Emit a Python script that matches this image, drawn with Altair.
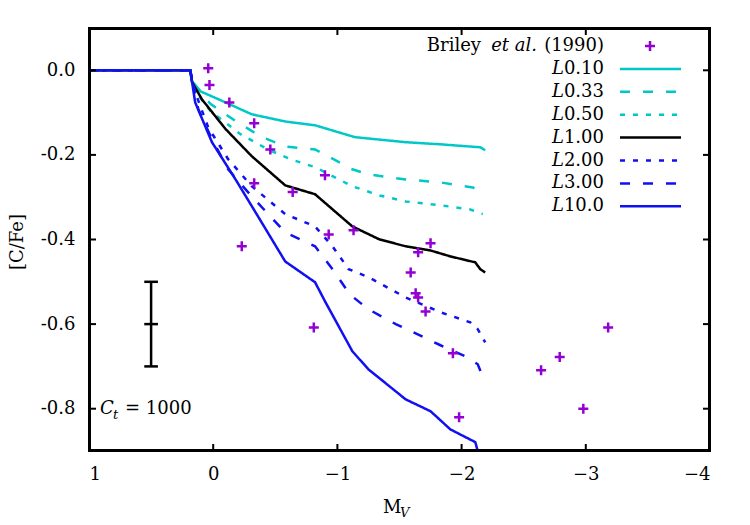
import altair as alt
import pandas as pd

# ---------------- data ----------------
series_names = ["L0.10", "L0.33", "L0.50", "L1.00", "L2.00", "L3.00", "L10.0"]
series_colors = ["#00C8C8", "#00C8C8", "#00C8C8", "#000000", "#1010F0", "#1010F0", "#1010F0"]
series_dash = [[1, 0], [10, 13], [5, 8], [1, 0], [5, 8], [10, 13], [1, 0]]

mv_L010 = [1.0, 0.185, 0.17, 0.10, -0.10, -0.31, -0.58, -0.82, -1.14, -1.55, -1.83, -2.15, -2.19]
cfe_L010 = [0.0, 0.0, -0.026, -0.05, -0.076, -0.104, -0.121, -0.130, -0.158, -0.170, -0.175, -0.182, -0.189]

mv_L033 = [1.0, 0.185, 0.145, 0.02, -0.18, -0.38, -0.58, -0.82, -1.12, -1.25, -1.55, -1.83, -2.09, -2.17]
cfe_L033 = [0.0, 0.0, -0.04, -0.08, -0.12, -0.156, -0.18, -0.187, -0.234, -0.246, -0.258, -0.265, -0.277, -0.288]

mv_L050 = [1.0, 0.185, 0.145, 0.02, -0.22, -0.44, -0.62, -0.82, -0.98, -1.12, -1.34, -1.55, -1.83, -2.07, -2.17]
cfe_L050 = [0.0, 0.0, -0.05, -0.097, -0.151, -0.187, -0.21, -0.229, -0.253, -0.274, -0.296, -0.31, -0.319, -0.329, -0.34]

mv_L100 = [1.0, 0.185, 0.17, 0.09, -0.10, -0.31, -0.58, -0.82, -1.12, -1.34, -1.55, -1.75, -1.91, -2.11, -2.15, -2.19]
cfe_L100 = [0.0, 0.0, -0.028, -0.069, -0.139, -0.203, -0.272, -0.293, -0.369, -0.40, -0.416, -0.426, -0.44, -0.454, -0.47, -0.478]

mv_L200 = [1.0, 0.185, 0.145, 0.04, -0.12, -0.31, -0.58, -0.82, -0.96, -1.09, -1.25, -1.55, -1.83, -2.07, -2.13, -2.19]
cfe_L200 = [0.0, 0.0, -0.052, -0.135, -0.21, -0.274, -0.34, -0.369, -0.416, -0.47, -0.489, -0.537, -0.572, -0.596, -0.612, -0.643]

mv_L300 = [1.0, 0.185, 0.12, 0.01, -0.12, -0.31, -0.58, -0.82, -0.98, -1.10, -1.25, -1.47, -1.61, -1.83, -2.03, -2.13, -2.19]
cfe_L300 = [0.0, 0.0, -0.092, -0.163, -0.234, -0.298, -0.383, -0.416, -0.478, -0.53, -0.565, -0.60, -0.619, -0.65, -0.676, -0.695, -0.738]

mv_L1000 = [1.0, 0.185, 0.145, 0.01, -0.18, -0.36, -0.58, -0.82, -0.90, -1.12, -1.25, -1.55, -1.75, -1.91, -2.11, -2.13]
cfe_L1000 = [0.0, 0.0, -0.076, -0.17, -0.258, -0.345, -0.452, -0.501, -0.546, -0.664, -0.707, -0.778, -0.806, -0.849, -0.879, -0.90]

briley_mv = [0.04, 0.03, -0.13, -0.33, -0.46, -0.33, -0.23, -0.64, -0.90, -1.13, -0.93, -0.81,
             -1.75, -1.65, -1.59, -1.63, -1.65, -1.71, -1.93, -1.98, -2.64, -2.79, -2.98, -3.18]
briley_cfe = [0.005, -0.035, -0.076, -0.125, -0.187, -0.267, -0.416, -0.288, -0.248, -0.378, -0.388, -0.608,
              -0.409, -0.43, -0.478, -0.527, -0.537, -0.57, -0.669, -0.82, -0.709, -0.678, -0.80, -0.608]

err_mv = [0.5]
err_center = [-0.6]
err_low = [-0.7]
err_high = [-0.5]

x_ticks = [1, 0, -1, -2, -3, -4]
y_ticks = [0.0, -0.2, -0.4, -0.6, -0.8]

# ---------------- layout ----------------
W, H = 621, 423
FONT = "DejaVu Serif"
FS = 18

all_mv = [mv_L010, mv_L033, mv_L050, mv_L100, mv_L200, mv_L300, mv_L1000]
all_cfe = [cfe_L010, cfe_L033, cfe_L050, cfe_L100, cfe_L200, cfe_L300, cfe_L1000]

rows = []
for name, mvs, cfes in zip(series_names, all_mv, all_cfe):
    for i, (a, b) in enumerate(zip(mvs, cfes)):
        rows.append({"series": name, "i": i, "mv": a, "cfe": b})
lines_df = pd.DataFrame(rows)

xscale = alt.Scale(domain=[1, -4], nice=False, zero=False)
yscale = alt.Scale(domain=[-0.9, 0.1], nice=False, zero=False)

xaxis = alt.Axis(values=x_ticks, labelExpr="format(datum.value, 'd')", ticks=False, tickSize=0,
                 domain=False, grid=False, labelPadding=14, labelFont=FONT, labelFontSize=FS,
                 labelColor="black", title=None)
yaxis = alt.Axis(values=y_ticks, labelExpr="replace(format(datum.value, '.1f'), '\u2212', '-')",
                 ticks=False, tickSize=0, domain=False, grid=False, labelPadding=14,
                 labelFont=FONT, labelFontSize=FS, labelColor="black", title=None)

base_x = alt.X("mv:Q", scale=xscale, axis=xaxis)
base_y = alt.Y("cfe:Q", scale=yscale, axis=yaxis)

layers = []
one = pd.DataFrame({"a": [0]})

# frame (drawn first, as a stroked rectangle)
layers.append(alt.Chart(one).mark_rect(filled=False, fillOpacity=0, stroke="black", strokeWidth=3)
              .encode(x=alt.value(0.5), x2=alt.value(W - 0.5), y=alt.value(0.5), y2=alt.value(H - 0.5)))

# line series
for name, col, dash in zip(series_names, series_colors, series_dash):
    layers.append(
        alt.Chart(lines_df).transform_filter(alt.datum.series == name)
        .mark_line(color=col, strokeDash=dash, strokeWidth=2.5, clip=True)
        .encode(x=base_x, y=base_y, order="i:Q")
    )

# Briley points
plus_path = "M -1 0 L 1 0 M 0 -1 L 0 1"
pts_df = pd.DataFrame({"mv": briley_mv, "cfe": briley_cfe})
layers.append(
    alt.Chart(pts_df).mark_point(shape=plus_path, size=100, filled=False, color="#9400D3",
                                 strokeWidth=2.5, opacity=1)
    .encode(x=base_x, y=base_y)
)

# error bar
err_df = pd.DataFrame({"mv": err_mv, "c": err_center, "lo": err_low, "hi": err_high})
layers.append(
    alt.Chart(err_df).mark_rule(color="black", strokeWidth=2.5)
    .encode(x=base_x, y=alt.Y("lo:Q", scale=yscale, axis=yaxis), y2="hi:Q")
)
for fld in ["lo", "hi", "c"]:
    layers.append(
        alt.Chart(err_df).mark_rule(color="black", strokeWidth=2.5)
        .transform_calculate(x1="datum.mv + 0.055", x2="datum.mv - 0.055")
        .encode(x=alt.X("x1:Q", scale=xscale, axis=xaxis), x2="x2:Q",
                y=alt.Y(f"{fld}:Q", scale=yscale, axis=yaxis))
    )

# inward ticks
xt_df = pd.DataFrame({"mv": x_ticks})
yt_df = pd.DataFrame({"cfe": y_ticks})
layers.append(alt.Chart(xt_df).mark_rule(color="black", strokeWidth=2)
              .encode(x=base_x, y=alt.value(H), y2=alt.value(H - 7)))
layers.append(alt.Chart(xt_df).mark_rule(color="black", strokeWidth=2)
              .encode(x=base_x, y=alt.value(0), y2=alt.value(7)))
layers.append(alt.Chart(yt_df).mark_rule(color="black", strokeWidth=2)
              .encode(y=base_y, x=alt.value(0), x2=alt.value(7)))
layers.append(alt.Chart(yt_df).mark_rule(color="black", strokeWidth=2)
              .encode(y=base_y, x=alt.value(W), x2=alt.value(W - 7)))

# frame edges as rules (on top)
layers.append(alt.Chart(one).mark_rule(color="black", strokeWidth=3)
              .encode(x=alt.value(0.5), x2=alt.value(W - 0.5), y=alt.value(0.5)))
layers.append(alt.Chart(one).mark_rule(color="black", strokeWidth=3)
              .encode(x=alt.value(0.5), x2=alt.value(W - 0.5), y=alt.value(H - 0.5)))
layers.append(alt.Chart(one).mark_rule(color="black", strokeWidth=3)
              .encode(y=alt.value(0.5), y2=alt.value(H - 0.5), x=alt.value(0.5)))
layers.append(alt.Chart(one).mark_rule(color="black", strokeWidth=3)
              .encode(y=alt.value(0.5), y2=alt.value(H - 0.5), x=alt.value(W - 0.5)))

# ---------------- legend ----------------
def txt(s, x, y, italic=False, align="right", size=FS, baseline="middle"):
    return (alt.Chart(pd.DataFrame({"t": [s]}))
            .mark_text(font=FONT, fontSize=size, fontStyle="italic" if italic else "normal",
                       align=align, baseline=baseline, color="black")
            .encode(text="t:N", x=alt.value(x), y=alt.value(y)))

row_y = [18 + 22.9 * k for k in range(8)]
layers.append(txt("(1990)", 515, row_y[0]))
layers.append(txt("et al.", 448, row_y[0], italic=True))
layers.append(txt("Briley", 392, row_y[0]))
layers.append(
    alt.Chart(one).mark_point(shape=plus_path, size=100, filled=False,
                              color="#9400D3", strokeWidth=2.5, opacity=1)
    .encode(x=alt.value(561), y=alt.value(row_y[0]))
)
for k, (name, col, dash) in enumerate(zip(series_names, series_colors, series_dash)):
    y = row_y[k + 1]
    layers.append(txt(name[1:], 515, y))
    layers.append(txt("L", 475, y, italic=True))
    layers.append(
        alt.Chart(one).mark_rule(color=col, strokeDash=dash, strokeWidth=2.5)
        .encode(x=alt.value(531), x2=alt.value(592), y=alt.value(y))
    )

# C_t annotation
layers.append(txt("C", 11, 381, italic=True, align="left"))
layers.append(txt("t", 24, 387, italic=True, align="left", size=13))
layers.append(txt("= 1000", 36, 381, align="left"))

# axis titles
layers.append(txt("M", 294, 480, align="left"))
layers.append(txt("V", 311, 485, italic=True, align="left", size=13))
layers.append(
    alt.Chart(pd.DataFrame({"t": ["[C/Fe]"]}))
    .mark_text(font=FONT, fontSize=FS, angle=270, align="center", baseline="middle", color="black")
    .encode(text="t:N", x=alt.value(-71), y=alt.value(214))
)

chart = (alt.layer(*layers)
         .properties(width=W, height=H,
                     padding={"left": 89, "top": 28, "right": 40, "bottom": 74},
                     autosize=alt.AutoSizeParams(type="none"))
         .configure_view(stroke=None)
         .configure(background="white"))

chart.save("out.html", embed_options={"renderer": "svg", "actions": False})
